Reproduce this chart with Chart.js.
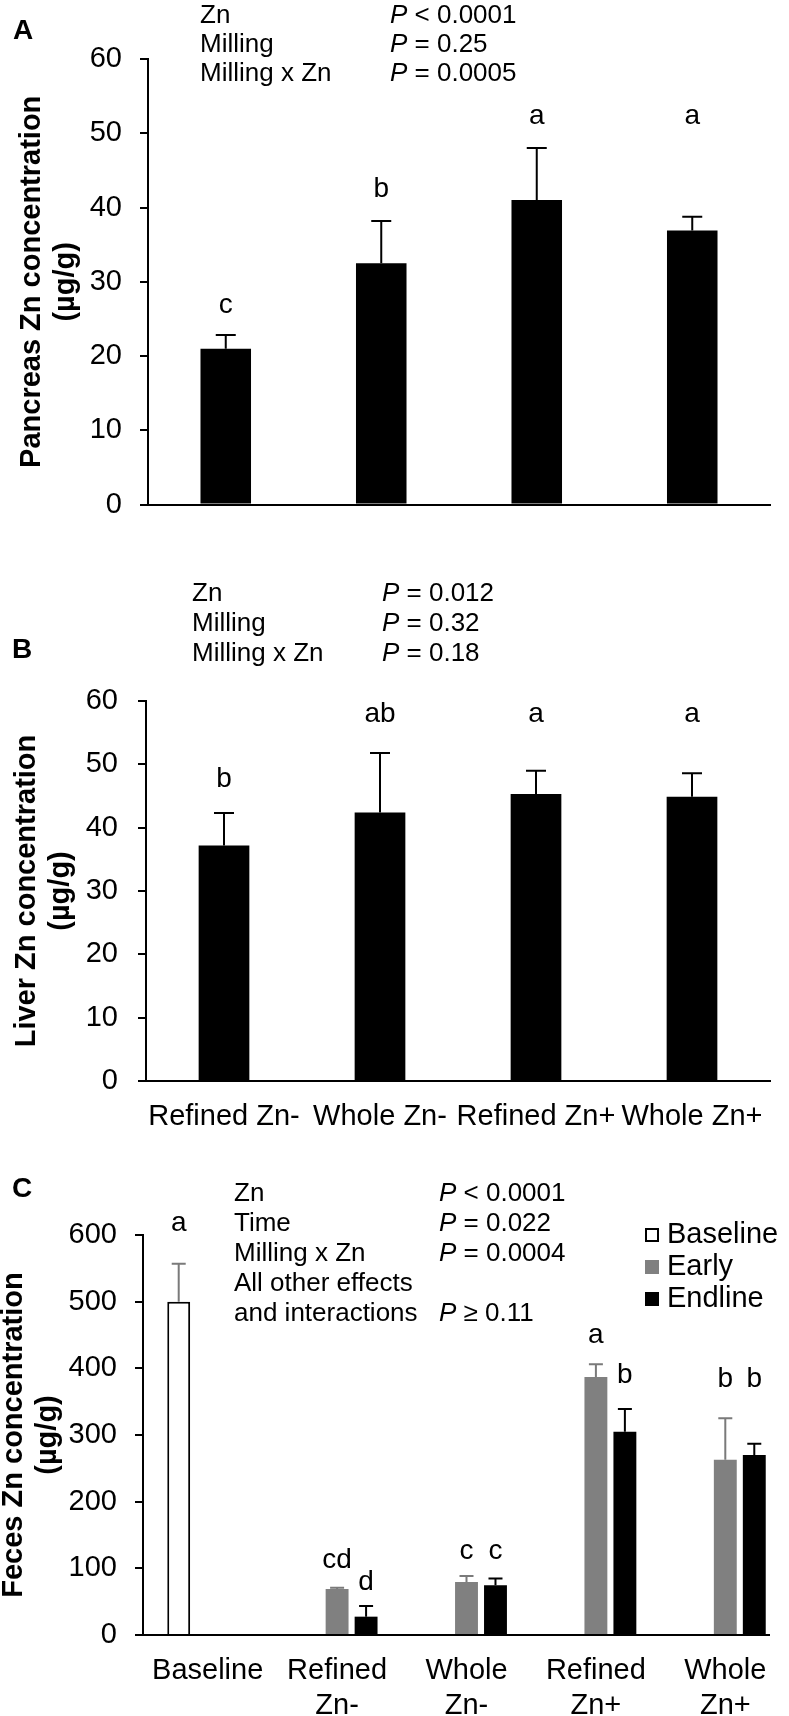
<!DOCTYPE html>
<html><head><meta charset="utf-8">
<script src="https://cdn.jsdelivr.net/npm/chart.js@4.4.0/dist/chart.umd.min.js"></script>
<style>
html,body{margin:0;padding:0;background:#fff;}
body{width:789px;height:1716px;overflow:hidden;position:relative;}
.p{position:absolute;}
</style></head><body>
<div class="p" style="left:0;top:0;width:789px;height:540px"><canvas id="ca"></canvas></div>
<div class="p" style="left:0;top:560px;width:789px;height:590px"><canvas id="cb"></canvas></div>
<div class="p" style="left:-3px;top:1160px;width:803px;height:556px"><canvas id="cc"></canvas></div>
<script>
const FONT = "'Liberation Sans', Arial, Helvetica, sans-serif";

// ---- Data ----
const categoriesAB = ['Refined Zn-', 'Whole Zn-', 'Refined Zn+', 'Whole Zn+'];
const pancreasMean = [21.0, 32.5, 41.0, 36.9];
const pancreasErr = [1.85, 5.7, 7.0, 1.85];
const pancreasLetters = ['c', 'b', 'a', 'a'];
const pancreasLetterAt = [26.8, 42.5, 52.3, 52.3];
const pancreasStats = [['Zn', '< 0.0001'], ['Milling', '= 0.25'], ['Milling x Zn', '= 0.0005']];

const liverMean = [37.2, 42.4, 45.3, 44.9];
const liverErr = [5.1, 9.4, 3.7, 3.7];
const liverLetters = ['b', 'ab', 'a', 'a'];
const liverLetterAt = [47.6, 57.9, 57.9, 57.9];
const liverStats = [['Zn', '= 0.012'], ['Milling', '= 0.32'], ['Milling x Zn', '= 0.18']];

const categoriesC = [['Baseline'], ['Refined', 'Zn-'], ['Whole', 'Zn-'], ['Refined', 'Zn+'], ['Whole', 'Zn+']];
const fecesBaseline = [500, null, null, null, null];
const fecesBaselineErr = [57, null, null, null, null];
const fecesBaselineLetters = ['a', null, null, null, null];
const fecesBaselineLetterAt = [618, null, null, null, null];
const fecesEarly = [null, 69, 79.5, 387, 263];
const fecesEarlyErr = [null, 2, 9, 19, 62];
const fecesEarlyLetters = [null, 'cd', 'c', 'a', 'b'];
const fecesEarlyLetterAt = [null, 112, 126, 449, 383];
const fecesEndline = [null, 27.5, 74.7, 305, 270];
const fecesEndlineErr = [null, 16, 10, 34, 17];
const fecesEndlineLetters = [null, 'd', 'c', 'b', 'b'];
const fecesEndlineLetterAt = [null, 79, 126, 390, 383];
const fecesStats = [['Zn', '< 0.0001'], ['Time', '= 0.022'], ['Milling x Zn', '= 0.0004'], ['All other effects', ''], ['and interactions', '\u2265 0.11']];

const yTicksAB = [0, 60, 10];
const yTicksC = [0, 600, 100];

// ---- Plugin ----
function makePlugin(p) {
  return {
    id: 'annot',
    afterDatasetsDraw(chart) {
      const ctx = chart.ctx, ys = chart.scales.y;
      ctx.save();
      chart.data.datasets.forEach((ds, i) => {
        const meta = chart.getDatasetMeta(i);
        ds.data.forEach((v, j) => {
          if (v == null) return;
          const bar = meta.data[j];
          const e = ds.errors[j];
          const yT = ys.getPixelForValue(v), yE = ys.getPixelForValue(v + e);
          ctx.strokeStyle = ds.errorColor; ctx.lineWidth = 2;
          ctx.beginPath();
          ctx.moveTo(bar.x, yT); ctx.lineTo(bar.x, yE);
          ctx.moveTo(bar.x - p.cap, yE); ctx.lineTo(bar.x + p.cap, yE);
          ctx.stroke();
          const L = ds.letters[j];
          if (L) {
            ctx.fillStyle = '#000';
            ctx.font = p.letterSize + 'px ' + FONT;
            ctx.textAlign = 'center'; ctx.textBaseline = 'middle';
            ctx.fillText(L, bar.x, ys.getPixelForValue(ds.letterAt[j]));
          }
        });
      });
      ctx.restore();
    },
    afterDraw(chart) {
      const ctx = chart.ctx;
      ctx.save();
      ctx.fillStyle = '#000';
      ctx.textAlign = 'left'; ctx.textBaseline = 'alphabetic';
      p.stats.forEach((r, k) => {
        const y = p.statsY[k];
        ctx.font = '26px ' + FONT;
        ctx.fillText(r[0], p.statsX1, y);
        if (r[1]) {
          ctx.font = 'italic 26px ' + FONT;
          ctx.fillText('P', p.statsX2, y);
          const w = ctx.measureText('P').width;
          ctx.font = '26px ' + FONT;
          ctx.fillText(' ' + r[1], p.statsX2 + w, y);
        }
      });
      ctx.font = 'bold 28px ' + FONT;
      ctx.fillText(p.label, p.labelX, p.labelY);
      if (p.legend) {
        const lg = p.legend;
        chart.data.datasets.forEach((ds, i) => {
          const cy = lg.y0 + i * lg.dy;
          ctx.fillStyle = ds.borderWidth ? ds.borderColor : ds.backgroundColor;
          ctx.fillRect(lg.x, cy - lg.s / 2, lg.s, lg.s);
          if (ds.borderWidth) {
            ctx.fillStyle = ds.backgroundColor;
            ctx.fillRect(lg.x + 2, cy - lg.s / 2 + 2, lg.s - 4, lg.s - 4);
          }
          ctx.fillStyle = '#000';
          ctx.font = '29px ' + FONT;
          ctx.textBaseline = 'middle';
          ctx.fillText(ds.label, lg.tx, cy);
        });
      }
      if (p.axisEnd) {
        const y0 = chart.scales.y.getPixelForValue(0);
        ctx.strokeStyle = '#000'; ctx.lineWidth = 2;
        ctx.beginPath();
        ctx.moveTo(chart.chartArea.left, y0); ctx.lineTo(p.axisEnd, y0);
        ctx.stroke();
      }
      ctx.restore();
    }
  };
}

function yAxis(t, title, width, titlePad, tickPad) {
  return {
    min: t[0], max: t[1],
    ticks: { stepSize: t[2], font: { family: FONT, size: 29 }, color: '#000', padding: tickPad },
    grid: { drawOnChartArea: false, drawTicks: true, tickLength: 8, color: '#000', lineWidth: 2 },
    border: { display: true, color: '#000', width: 2 },
    title: { display: true, text: title, color: '#000', font: { family: FONT, size: 29, weight: 'bold', lineHeight: 1.17 }, padding: { top: titlePad, bottom: 0 } },
    afterFit(s) { s.width = width; }
  };
}

function xAxis(showLabels, height, pad, border) {
  return {
    ticks: { display: showLabels, autoSkip: false, maxRotation: 0, minRotation: 0, font: { family: FONT, size: 29 }, color: '#000', padding: pad },
    grid: { display: false, drawTicks: false },
    border: { display: border, color: '#000', width: 2 },
    afterFit(s) { s.height = height; }
  };
}

const common = {
  responsive: true, maintainAspectRatio: false, animation: false, devicePixelRatio: 1,
  plugins: { legend: { display: false }, tooltip: { enabled: false } }
};

// Panel A
new Chart(document.getElementById('ca'), {
  type: 'bar',
  data: {
    labels: categoriesAB,
    datasets: [{
      label: 'Pancreas', data: pancreasMean, errors: pancreasErr, letters: pancreasLetters, letterAt: pancreasLetterAt,
      errorColor: '#000', backgroundColor: '#000', borderWidth: 0, barPercentage: 0.325, categoryPercentage: 1
    }]
  },
  options: Object.assign({}, common, {
    layout: { padding: { top: 59, left: 0, right: 19, bottom: 0 } },
    scales: {
      x: xAxis(false, 32, 0, true),
      y: yAxis(yTicksAB, ['Pancreas Zn concentration', '(\u00b5g/g)'], 148, 15, 18)
    }
  }),
  plugins: [makePlugin({ cap: 10, letterSize: 28, stats: pancreasStats, statsX1: 200, statsX2: 390, statsY: [23, 52, 81], label: 'A', labelX: 13, labelY: 39 })]
});

// Panel B
new Chart(document.getElementById('cb'), {
  type: 'bar',
  data: {
    labels: categoriesAB,
    datasets: [{
      label: 'Liver', data: liverMean, errors: liverErr, letters: liverLetters, letterAt: liverLetterAt,
      errorColor: '#000', backgroundColor: '#000', borderWidth: 0, barPercentage: 0.325, categoryPercentage: 1
    }]
  },
  options: Object.assign({}, common, {
    layout: { padding: { top: 141, left: 0, right: 19, bottom: 0 } },
    scales: {
      x: xAxis(true, 69, 19, true),
      y: yAxis(yTicksAB, ['Liver Zn concentration', '(\u00b5g/g)'], 146, 10, 20)
    }
  }),
  plugins: [makePlugin({ cap: 10, letterSize: 28, stats: liverStats, statsX1: 192, statsX2: 382, statsY: [41, 71, 101], label: 'B', labelX: 12, labelY: 98 })]
});

// Panel C
new Chart(document.getElementById('cc'), {
  type: 'bar',
  data: {
    labels: categoriesC,
    datasets: [
      { label: 'Baseline', data: fecesBaseline, errors: fecesBaselineErr, letters: fecesBaselineLetters, letterAt: fecesBaselineLetterAt,
        errorColor: '#7a7a7a', backgroundColor: '#ffffff', borderColor: '#000', borderWidth: 2, barPercentage: 0.79, categoryPercentage: 0.672 },
      { label: 'Early', data: fecesEarly, errors: fecesEarlyErr, letters: fecesEarlyLetters, letterAt: fecesEarlyLetterAt,
        errorColor: '#7a7a7a', backgroundColor: '#808080', borderWidth: 0, barPercentage: 0.79, categoryPercentage: 0.672 },
      { label: 'Endline', data: fecesEndline, errors: fecesEndlineErr, letters: fecesEndlineLetters, letterAt: fecesEndlineLetterAt,
        errorColor: '#000', backgroundColor: '#000000', borderWidth: 0, barPercentage: 0.79, categoryPercentage: 0.672 }
    ]
  },
  options: Object.assign({}, common, {
    layout: { padding: { top: 75, left: 0, right: 10, bottom: 0 } },
    scales: {
      x: xAxis(true, 81, 19, false),
      y: yAxis(yTicksC, ['Feces Zn concentration', '(\u00b5g/g)'], 146, 0, 18)
    }
  }),
  plugins: [makePlugin({ cap: 7, letterSize: 28, stats: fecesStats, statsX1: 237, statsX2: 442, statsY: [41, 71, 101, 131, 161], label: 'C', labelX: 15, labelY: 37,
    legend: { x: 648, s: 14, tx: 670, y0: 75, dy: 32 }, axisEnd: 773 })]
});
</script>
</body></html>
